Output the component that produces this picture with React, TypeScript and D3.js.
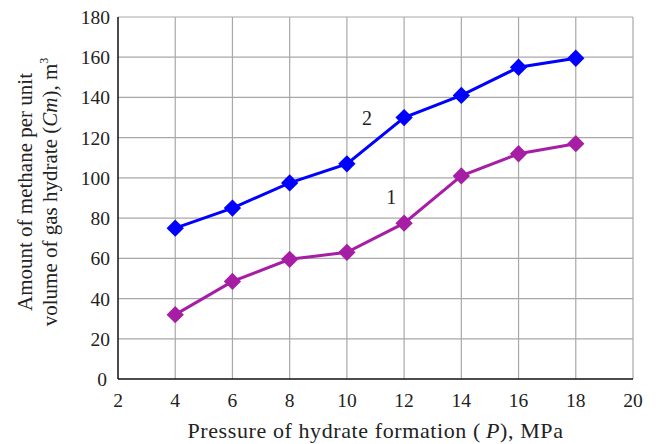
import * as d3 from "d3";
import { useEffect, useRef } from "react";

const pressure = [4, 6, 8, 10, 12, 14, 16, 18];
const curve1 = [32, 48.5, 59.5, 63, 77.5, 101, 112, 117];
const curve2 = [75, 85, 97.5, 107, 130, 141, 155, 159.5];
const xTicks = [2, 4, 6, 8, 10, 12, 14, 16, 18, 20];
const yTicks = [0, 20, 40, 60, 80, 100, 120, 140, 160, 180];

const W = 656;
const H = 444;
const margin = { left: 118, right: 23, top: 17, bottom: 65 };
const font = "'Liberation Serif', 'Times New Roman', serif";

const App = () => {
    const svgRef = useRef(null);

    useEffect(() => {
        const svg = d3.select(svgRef.current);
        svg.selectAll("*").remove();

        const x = d3.scaleLinear().domain([2, 20]).range([margin.left, W - margin.right]);
        const y = d3.scaleLinear().domain([0, 180]).range([H - margin.bottom, margin.top]);

        // grid
        svg.append("g").selectAll("line.gx").data(xTicks.slice(1)).join("line")
            .attr("x1", d => x(d)).attr("x2", d => x(d))
            .attr("y1", y(0)).attr("y2", y(180))
            .attr("stroke", "#a8a8a8").attr("stroke-width", 1.2);
        svg.append("g").selectAll("line.gy").data(yTicks.slice(1)).join("line")
            .attr("x1", x(2)).attr("x2", x(20))
            .attr("y1", d => y(d)).attr("y2", d => y(d))
            .attr("stroke", "#a8a8a8").attr("stroke-width", 1.2);

        // axes lines
        svg.append("line").attr("x1", x(2)).attr("x2", x(2)).attr("y1", y(0)).attr("y2", y(180))
            .attr("stroke", "#111").attr("stroke-width", 1.5);
        svg.append("line").attr("x1", x(2)).attr("x2", x(20)).attr("y1", y(0)).attr("y2", y(0))
            .attr("stroke", "#111").attr("stroke-width", 1.5);

        // tick labels
        svg.append("g").selectAll("text").data(yTicks).join("text")
            .attr("x", d => x(2) - (d === 0 ? 11 : 8)).attr("y", d => y(d) + 7)
            .attr("text-anchor", "end")
            .attr("font-family", font).attr("font-size", 19.5).attr("fill", "#222")
            .text(d => d);
        svg.append("g").selectAll("text").data(xTicks).join("text")
            .attr("x", d => x(d)).attr("y", y(0) + 28)
            .attr("text-anchor", "middle")
            .attr("font-family", font).attr("font-size", 19.5).attr("fill", "#222")
            .text(d => d);

        const line = d3.line<number>()
            .x((d, i) => x(pressure[i]))
            .y(d => y(d));

        const series = [
            { values: curve1, color: "#a61ea3", label: "1", lx: 11.55, ly: 87 },
            { values: curve2, color: "#0000ff", label: "2", lx: 10.7, ly: 126.5 },
        ];

        series.forEach(s => {
            svg.append("path").datum(s.values)
                .attr("fill", "none").attr("stroke", s.color).attr("stroke-width", 3)
                .attr("d", line);
            svg.append("g").selectAll("path").data(s.values).join("path")
                .attr("d", d3.symbol(d3.symbolSquare, 150)())
                .attr("transform", (d, i) => `translate(${x(pressure[i])},${y(d)}) rotate(45)`)
                .attr("fill", s.color);
            svg.append("text")
                .attr("x", x(s.lx)).attr("y", y(s.ly))
                .attr("font-family", font).attr("font-size", 20).attr("fill", "#222")
                .attr("text-anchor", "middle")
                .text(s.label);
        });

        // x title
        const xt = svg.append("text")
            .attr("x", (x(2) + x(20)) / 2).attr("y", H - 6)
            .attr("text-anchor", "middle")
            .attr("font-family", font).attr("font-size", 22).attr("fill", "#222")
            .attr("letter-spacing", 0.6);
        xt.append("tspan").text("Pressure of hydrate formation (\u2009");
        xt.append("tspan").attr("font-style", "italic").text("P");
        xt.append("tspan").text("), MPa");

        // y title
        const cy = 192;
        const yt = svg.append("text")
            .attr("transform", `translate(32,${cy}) rotate(-90)`)
            .attr("text-anchor", "middle")
            .attr("font-family", font).attr("font-size", 21).attr("fill", "#222");
        yt.append("tspan").attr("x", 0).attr("y", 0).text("Amount of methane per unit");
        yt.append("tspan").attr("x", 0).attr("dy", 25).text("volume of gas hydrate (");
        yt.append("tspan").attr("font-style", "italic").text("Cm");
        yt.append("tspan").text("), m");
        yt.append("tspan").attr("font-size", 12).attr("dy", -9).text("3");
    }, []);

    return (
        <svg ref={svgRef} width={W} height={H}
            style={{ position: "absolute", left: 0, top: 0, background: "#fff" }} />
    );
};

export default App;
